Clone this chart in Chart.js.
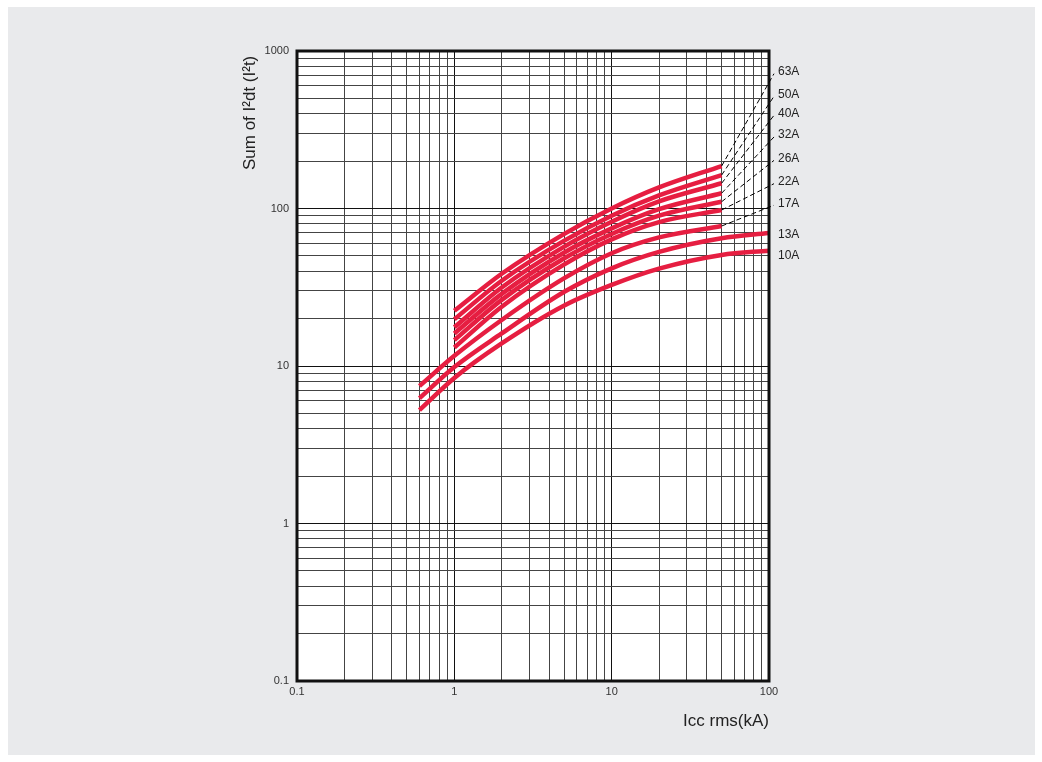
<!DOCTYPE html>
<html>
<head>
<meta charset="utf-8">
<script src="https://cdn.jsdelivr.net/npm/chart.js@4.4.0/dist/chart.umd.min.js"></script>
<style>
  html, body { margin: 0; padding: 0; background: #fff; }
  body { width: 1042px; height: 762px; position: relative; overflow: hidden; }
  #panel { position: absolute; left: 8px; top: 7px; width: 1027px; height: 748px; background: #e9eaec; }
  #chart { position: absolute; left: 0; top: 0; }
</style>
</head>
<body>
<div id="panel"></div>
<canvas id="chart" width="1042" height="762"></canvas>
<script>
// rated currents, top curve first
const ratings = ['63A', '50A', '40A', '32A', '26A', '22A', '17A', '13A', '10A'];

// Icc rms (kA) where each curve was read
const iccShort = [1, 2, 5, 10, 20, 50];
const iccMid = [0.6, 1, 2, 5, 10, 20, 50];
const iccLong = [0.6, 1, 2, 5, 10, 20, 50, 100];

// sum of I2dt
const i2t63 = [22.4, 38.5, 69, 100, 136, 186];
const i2t50 = [19.8, 34.8, 62.5, 90, 121, 163];
const i2t40 = [17.6, 31.5, 57.3, 82.4, 111, 144.6];
const i2t32 = [16.1, 28.7, 52.6, 74.8, 99, 125];
const i2t26 = [14.6, 26.3, 48.3, 68.9, 90, 110.4];
const i2t22 = [13.1, 23.8, 44.2, 63.7, 82, 97.8];
const i2t17 = [7.46, 11.6, 19.6, 36.1, 52, 65.5, 77.4];
const i2t13 = [6.24, 9.85, 16.1, 29.6, 41.7, 53, 64.7, 69.9];
const i2t10 = [5.25, 8.4, 13.9, 24.2, 32.7, 41.5, 50.7, 54];

// where the rating labels sit, in y-axis units
const labelAt = [739, 531, 402, 293, 208, 148, 108, 67.9, 50.5];
// which labels get a dashed leader
const hasLeader = [true, true, true, true, true, true, true, false, false];

const xDecades = [0.1, 1, 10, 100];
const xTickLabels = ['0.1', '1', '10', '100'];
const yDecades = [0.1, 1, 10, 100, 1000];
const yTickLabels = ['0.1', '1', '10', '100', '1000'];

const seriesX = [iccShort, iccShort, iccShort, iccShort, iccShort, iccShort, iccMid, iccLong, iccLong];
const seriesY = [i2t63, i2t50, i2t40, i2t32, i2t26, i2t22, i2t17, i2t13, i2t10];

function gridValues(decades) {
	const out = [];
	decades.forEach((d, i) => {
		if (i === decades.length - 1) { out.push(d); return; }
		for (let k = 1; k <= 9; k++) out.push(d * k);
	});
	return out;
}

function isDecade(v) {
	const l = Math.log10(v);
	return Math.abs(l - Math.round(l)) < 1e-9;
}

const RED = '#e61e41';
const FONT = "'Liberation Sans', Arial, sans-serif";

const datasets = seriesY.map((ys, i) => ({
	label: ratings[i],
	data: ys.map((y, j) => ({ x: seriesX[i][j], y: y })),
	borderColor: RED,
	borderWidth: 4.5,
	pointRadius: 0,
	fill: false,
	cubicInterpolationMode: 'monotone',
	borderCapStyle: 'butt'
}));

const plotBackground = {
	id: 'plotBackground',
	beforeDraw(chart) {
		const { ctx, chartArea: a } = chart;
		ctx.save();
		ctx.fillStyle = '#fff';
		ctx.fillRect(a.left, a.top, a.right - a.left, a.bottom - a.top);
		ctx.restore();
	}
};

const frameAndLabels = {
	id: 'frameAndLabels',
	afterDatasetsDraw(chart) {
		const { ctx, chartArea: a, scales } = chart;
		ctx.save();
		ctx.strokeStyle = '#111';
		ctx.lineWidth = 3;
		ctx.strokeRect(a.left, a.top, a.right - a.left, a.bottom - a.top);

		ctx.font = '12px ' + FONT;
		ctx.fillStyle = '#222';
		ctx.textBaseline = 'middle';
		ctx.textAlign = 'left';
		seriesY.forEach((ys, i) => {
			const ly = scales.y.getPixelForValue(labelAt[i]);
			if (hasLeader[i]) {
				const xs = seriesX[i];
				const x0 = scales.x.getPixelForValue(xs[xs.length - 1]);
				const y0 = scales.y.getPixelForValue(ys[ys.length - 1]);
				ctx.beginPath();
				ctx.setLineDash([5, 3]);
				ctx.lineWidth = 1;
				ctx.strokeStyle = '#000';
				ctx.moveTo(x0, y0);
				ctx.lineTo(a.right + 5, ly + 2);
				ctx.stroke();
				ctx.setLineDash([]);
			}
			ctx.fillText(ratings[i], a.right + 9, ly);
		});
		ctx.restore();
	}
};

new Chart(document.getElementById('chart'), {
	type: 'line',
	data: { datasets: datasets },
	options: {
		responsive: false,
		animation: false,
		layout: { padding: { left: 200, top: 51, right: 273, bottom: 21 } },
		plugins: { legend: { display: false }, tooltip: { enabled: false } },
		scales: {
			x: {
				type: 'logarithmic',
				min: 0.1,
				max: 100,
				afterBuildTicks: s => { s.ticks = gridValues(xDecades).map(v => ({ value: v })); },
				afterFit: s => { s.height = 60; },
				border: { display: false },
				grid: {
					drawTicks: false,
					lineWidth: 1,
					color: c => isDecade(c.tick.value) ? '#111' : '#444'
				},
				ticks: {
					autoSkip: false,
					maxRotation: 0,
					padding: 4,
					color: '#333',
					font: { family: FONT, size: 11 },
					callback: v => {
						const i = xDecades.indexOf(v);
						return i >= 0 ? xTickLabels[i] : '';
					}
				},
				title: {
					display: true,
					text: 'Icc rms(kA)',
					align: 'end',
					color: '#222',
					font: { family: FONT, size: 17 },
					padding: { top: 0, bottom: 9 }
				}
			},
			y: {
				type: 'logarithmic',
				min: 0.1,
				max: 1000,
				afterBuildTicks: s => { s.ticks = gridValues(yDecades).map(v => ({ value: v })); },
				afterFit: s => { s.width = 97; },
				border: { display: false },
				grid: {
					drawTicks: false,
					lineWidth: 1,
					color: c => isDecade(c.tick.value) ? '#111' : '#444'
				},
				ticks: {
					autoSkip: false,
					padding: 8,
					color: '#333',
					font: { family: FONT, size: 11 },
					callback: v => {
						const i = yDecades.indexOf(v);
						return i >= 0 ? yTickLabels[i] : '';
					}
				},
				title: {
					display: true,
					text: 'Sum of I\u00b2dt (I\u00b2t) ',
					align: 'end',
					color: '#222',
					font: { family: FONT, size: 17 },
					padding: { top: 40, bottom: 0 }
				}
			}
		}
	},
	plugins: [plotBackground, frameAndLabels]
});
</script>
</body>
</html>
